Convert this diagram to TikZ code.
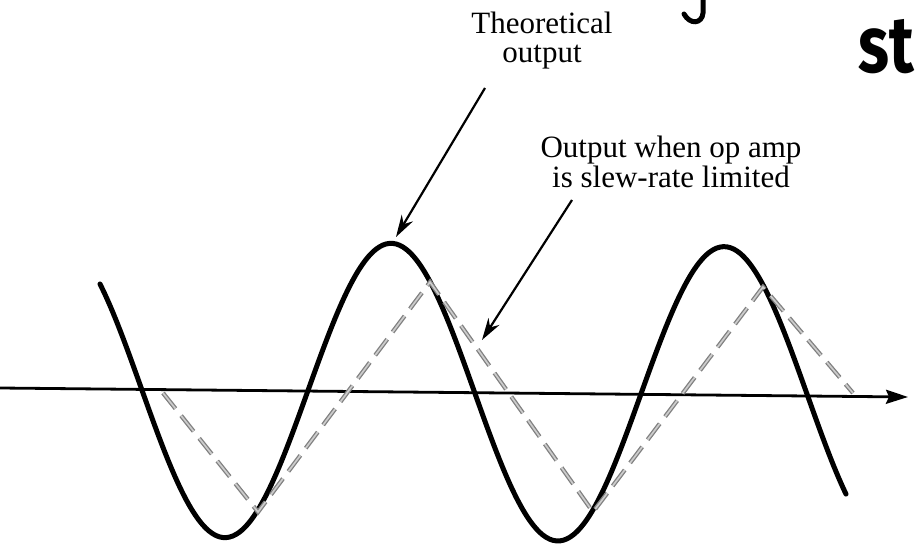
\documentclass[tikz,border=0pt]{standalone}
\usepackage{fontspec}
\setmainfont{Liberation Serif}
\newfontfamily\handfont{Fira Sans}
\usetikzlibrary{arrows.meta}
\begin{document}
\begin{tikzpicture}[x=1pt,y=-1pt,
  lbl/.style={font=\fontsize{31}{29.5}\selectfont, align=center, text=black, inner sep=0pt},
  theory/.style={line width=5pt, line join=round, line cap=round},
  slewline/.style={draw=black!50, double=black!20, line width=1.3pt, double distance=1.7pt,
                   dash pattern=on 20pt off 9pt},
  pointer/.style={line width=2.2pt, -{Stealth[length=22pt,width=13pt,inset=7pt]}},
  axisline/.style={line width=2.8pt, -{Stealth[length=22pt,width=14pt,inset=3pt]}},
  hand/.style={font=\handfont\bfseries\fontsize{80}{80}\selectfont, inner sep=0pt, anchor=base west, xscale=0.8},
  handstroke/.style={line width=5pt, line cap=round}
]
\useasboundingbox (0,0) rectangle (920,545);

% labels
\node[lbl] (theo) at (542,40.75) {Theoretical\\output};
\node[lbl] (slew) at (671,162) {Output when op amp\\is slew-rate limited};

% handwriting fragments at the top right
\node[hand] (hw) at (858,73) {st};
\draw[handstroke] (703,-2) -- (703,13) .. controls (702,24) and (690,25) .. (684,14);

% time axis
\coordinate (axL) at (0,388);
\coordinate (axR) at (908,397);
\draw[axisline] (axL) -- (axR);

% theoretical sine output
\draw[theory] plot[domain=100:846, samples=220, smooth]
  (\x, {391.3+0.01*(\x-390)-148*sin(360*((\x-308)/333))});

% slew-rate limited output
\coordinate (s0) at (163,393);
\coordinate (s1) at (258,512);
\coordinate (s2) at (430,282);
\coordinate (s3) at (593,512);
\coordinate (s4) at (763,287);
\coordinate (s5) at (853,393);
\draw[slewline] (s0) -- (s1) -- (s2) -- (s3) -- (s4) -- (s5);

% pointers
\coordinate (theoTail) at (485,88);
\coordinate (theoTip) at (396,237);
\coordinate (slewTail) at (572,200);
\coordinate (slewTip) at (482,340);
\draw[pointer] (theoTail) -- (theoTip);
\draw[pointer] (slewTail) -- (slewTip);
\end{tikzpicture}
\end{document}
